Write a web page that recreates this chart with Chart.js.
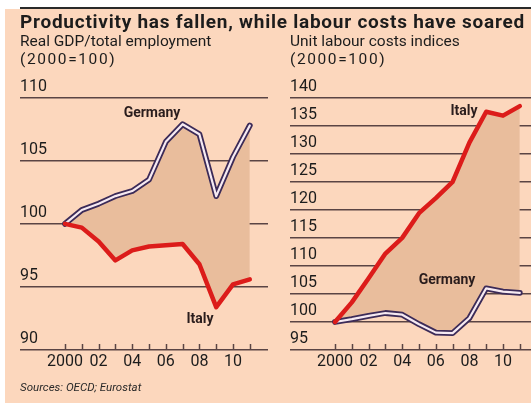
<!DOCTYPE html>
<html>
<head>
<meta charset="utf-8">
<script src="https://cdn.jsdelivr.net/npm/chart.js@4"></script>
<style>
  body { margin: 0; background: #fff; }
  #wrap { position: relative; width: 531px; height: 403px; overflow: hidden; background: #fff; }
  #bg { position: absolute; left: 5px; top: 9px; right: 0; bottom: 0; background: #fcd7bd; }
  #rule { position: absolute; left: 20px; top: 7px; width: 511px; height: 2px; background: #2a2a2a; }
  .t { position: absolute; font-family: Roboto, sans-serif; color: #1c1c1c; white-space: nowrap; }
  .title { left: 20px; top: 12px; font-size: 19px; font-weight: bold; line-height: 19px; letter-spacing: 0.75px; }
  .sub { top: 32px; font-size: 15.5px; line-height: 18px; }
  .sub span { letter-spacing: 1.6px; }
  .lab { font-size: 14px; font-weight: bold; transform: translate(-50%, -50%); color: #2a1d1d; }
  .src { left: 20px; top: 380px; font-size: 11.5px; font-style: italic; color: #2a2a2a; }
  canvas { position: absolute; top: 0; }
</style>
</head>
<body>
<div id="wrap">
  <div id="bg"></div>
  <div id="rule"></div>
  <canvas id="left" width="270" height="403" style="left:0"></canvas>
  <canvas id="right" width="261" height="403" style="left:270px"></canvas>
  <div class="t title">Productivity has fallen, while labour costs have soared</div>
  <div class="t sub" style="left:20px">Real GDP/total employment<br><span>(2000=100)</span></div>
  <div class="t sub" style="left:290px">Unit labour costs indices<br><span>(2000=100)</span></div>
  <div class="t lab" style="left:152px; top:112px">Germany</div>
  <div class="t lab" style="left:200px; top:318px">Italy</div>
  <div class="t lab" style="left:464px; top:110px">Italy</div>
  <div class="t lab" style="left:447px; top:279px">Germany</div>
  <div class="t src">Sources: OECD; Eurostat</div>
</div>
<script>
const years = [2000, 2001, 2002, 2003, 2004, 2005, 2006, 2007, 2008, 2009, 2010, 2011];
const tickYears = [2000, 2002, 2004, 2006, 2008, 2010];
const tickLabels = ['2000', '02', '04', '06', '08', '10'];

// Real GDP / total employment
const gdpGermany = [100, 101.1, 101.6, 102.2, 102.6, 103.5, 106.5, 107.9, 107.1, 102.2, 105.3, 107.8];
const gdpItaly = [100, 99.7, 98.6, 97.1, 97.9, 98.2, 98.3, 98.4, 96.8, 93.4, 95.2, 95.6];
const gdpTicks = [90, 95, 100, 105, 110];

// Unit labour costs
const ulcItaly = [100, 103.5, 107.8, 112.2, 115.0, 119.4, 122.1, 125.0, 132.0, 137.5, 136.8, 138.5];
const ulcGermany = [100, 100.5, 101.1, 101.6, 101.3, 99.6, 98.1, 98.0, 100.7, 106.0, 105.4, 105.2];
const ulcTicks = [95, 100, 105, 110, 115, 120, 125, 130, 135, 140];

const GRID = '#5a4444';
const RED = '#dc1c1a';
const PURPLE = '#3c2b58';
const FILL = '#e9bd9c';

const pts = vals => vals.map((v, i) => ({ x: years[i], y: v }));

// year tick marks sit on top of the base line, labels below it
const yearAxis = {
  id: 'yearAxis',
  afterDraw(chart) {
    const { ctx, chartArea } = chart;
    const x = chart.scales.x;
    ctx.save();
    ctx.strokeStyle = GRID;
    ctx.lineWidth = 1.5;
    years.forEach(yr => {
      const px = Math.round(x.getPixelForValue(yr)) + 0.5;
      ctx.beginPath();
      ctx.moveTo(px, chartArea.bottom);
      ctx.lineTo(px, chartArea.bottom - 6);
      ctx.stroke();
    });
    ctx.fillStyle = '#1c1c1c';
    ctx.font = '16px Roboto, sans-serif';
    ctx.textAlign = 'center';
    ctx.textBaseline = 'middle';
    tickYears.forEach((yr, i) => {
      ctx.fillText(tickLabels[i], x.getPixelForValue(yr), chartArea.bottom + 12);
    });
    ctx.restore();
  }
};

function makeChart(id, topSeries, bottomSeries, topColor, ticks, xMax, padRight) {
  const germanyOnTop = topColor === 'germany';
  const germ = germanyOnTop ? topSeries : bottomSeries;
  const ital = germanyOnTop ? bottomSeries : topSeries;
  return new Chart(document.getElementById(id), {
    type: 'line',
    data: {
      datasets: [
        { data: pts(ital), borderColor: RED, borderWidth: 4.5, pointRadius: 0, fill: false, order: 1 },
        { data: pts(germ), borderColor: '#f6eaf2', borderWidth: 2.2, pointRadius: 0, fill: false, order: 2 },
        { data: pts(germ), borderColor: PURPLE, borderWidth: 5.8, pointRadius: 0, fill: false, order: 3 },
        { data: pts(topSeries), borderColor: 'rgba(0,0,0,0)', borderWidth: 0, pointRadius: 0,
          fill: { target: 4 }, backgroundColor: FILL, order: 4 },
        { data: pts(bottomSeries), borderColor: 'rgba(0,0,0,0)', borderWidth: 0, pointRadius: 0, fill: false, order: 5 }
      ]
    },
    options: {
      responsive: false,
      animation: false,
      layout: { padding: { left: 20, top: 97.7, right: padRight, bottom: 53 } },
      elements: { line: { tension: 0, borderJoinStyle: 'round', borderCapStyle: 'round' } },
      plugins: { legend: { display: false }, tooltip: { enabled: false }, filler: { drawTime: 'beforeDatasetsDraw' } },
      scales: {
        x: { type: 'linear', min: 1997.321, max: xMax, display: false },
        y: {
          min: ticks[0], max: ticks[ticks.length - 1],
          afterBuildTicks: axis => { axis.ticks = ticks.map(v => ({ value: v })); },
          border: { display: false },
          grid: { color: GRID, lineWidth: 1.5, drawTicks: false },
          ticks: {
            mirror: true, padding: 0, labelOffset: -11,
            color: '#1c1c1c', font: { family: 'Roboto', size: 16 }
          }
        }
      }
    },
    plugins: [yearAxis]
  });
}

makeChart('left', gdpGermany, gdpItaly, 'germany', gdpTicks, 2012.083, 2);
makeChart('right', ulcItaly, ulcGermany, 'italy', ulcTicks, 2011.667, 0);
</script>
</body>
</html>
